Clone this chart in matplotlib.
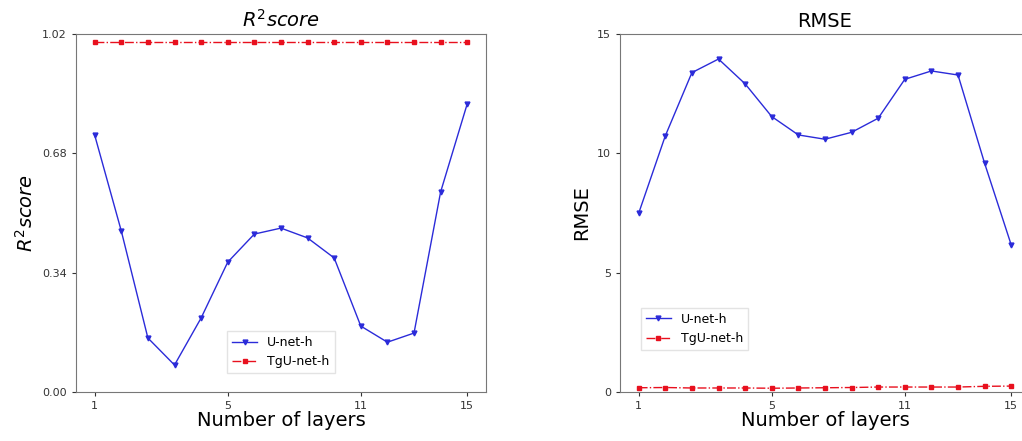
import numpy as np
import matplotlib
matplotlib.use("Agg")
import matplotlib.pyplot as plt

# valores (15 pontos, um por camada)
layers = np.arange(15)
tick_pos = [0, 5, 10, 14]
tick_labels = ["1", "5", "11", "15"]

r2_unet = [0.732, 0.459, 0.154, 0.077, 0.211, 0.370, 0.450, 0.467,
           0.439, 0.382, 0.188, 0.142, 0.168, 0.570, 0.821]
r2_tgunet = [0.996] * 15

rmse_unet = [7.49, 10.73, 13.38, 13.95, 12.91, 11.54, 10.77, 10.59,
             10.88, 11.47, 13.10, 13.45, 13.28, 9.58, 6.16]
rmse_tgunet = [0.18, 0.19, 0.17, 0.17, 0.17, 0.16, 0.17, 0.18,
               0.19, 0.21, 0.21, 0.21, 0.21, 0.24, 0.25]

fig = plt.figure(figsize=(10.22, 4.41), dpi=100)
ax1 = fig.add_axes([0.0744, 0.111, 0.401, 0.812])
ax2 = fig.add_axes([0.6067, 0.111, 0.401, 0.812])

# R2 score
ax1.plot(layers, r2_unet, color="#2b2bd9", marker="v", markersize=3.5,
         linewidth=1.0, label="U-net-h")
ax1.plot(layers, r2_tgunet, color="#e8101e", marker="s", markersize=3.5,
         linestyle="-.", linewidth=1.0, label="TgU-net-h")
ax1.set_ylim(0, 1.02)
ax1.set_yticks([0.0, 0.34, 0.68, 1.02])
ax1.set_yticklabels(["0.00", "0.34", "0.68", "1.02"])
ax1.set_title("$R^2 score$", fontsize=14, pad=5)
ax1.set_ylabel("$R^2 score$", fontsize=14)
ax1.legend(loc="lower center", bbox_to_anchor=(0.5, 0.035), fontsize=9,
           framealpha=0.8, edgecolor="#dddddd", fancybox=False)

# RMSE
ax2.plot(layers, rmse_unet, color="#2b2bd9", marker="v", markersize=3.5,
         linewidth=1.0, label="U-net-h")
ax2.plot(layers, rmse_tgunet, color="#e8101e", marker="s", markersize=3.5,
         linestyle="-.", linewidth=1.0, label="TgU-net-h")
ax2.set_ylim(0, 15)
ax2.set_yticks([0, 5, 10, 15])
ax2.set_title("RMSE", fontsize=14, pad=5)
ax2.set_ylabel("RMSE", fontsize=14)
ax2.legend(loc="lower left", bbox_to_anchor=(0.035, 0.1), fontsize=9,
           framealpha=0.8, edgecolor="#dddddd", fancybox=False)

for ax in (ax1, ax2):
    ax.set_xlim(-0.7, 14.7)
    ax.set_xticks(tick_pos)
    ax.set_xticklabels(tick_labels)
    ax.set_xlabel("Number of layers", fontsize=14, labelpad=0)
    ax.tick_params(labelsize=8, colors="#333333", length=3)
    for s in ax.spines.values():
        s.set_color("#777777")

fig.savefig("out.png", dpi=100)
